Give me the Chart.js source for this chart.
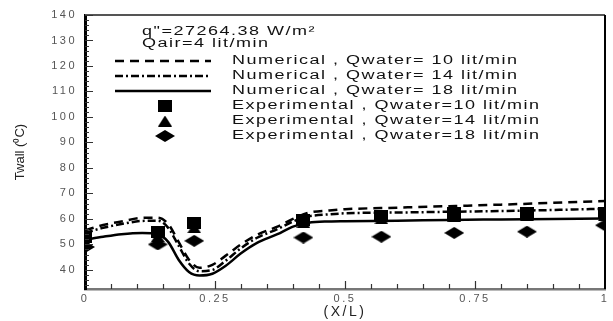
<!DOCTYPE html>
<html>
<head>
<meta charset="utf-8">
<script src="https://cdn.jsdelivr.net/npm/chart.js@4.4.1/dist/chart.umd.min.js"></script>
<style>
html, body { margin: 0; padding: 0; background: #fff; }
#wrap { width: 613px; height: 321px; }
</style>
</head>
<body>
<div id="wrap"><canvas id="myChart" width="613" height="321"></canvas></div>
<script>
const xTicks = [0, 0.25, 0.5, 0.75, 1];
const yTicks = [40, 50, 60, 70, 80, 90, 100, 110, 120, 130, 140];

// numerical profiles along the wall
const xNum = [0, 0.035, 0.07, 0.11, 0.14, 0.16, 0.18, 0.2, 0.22, 0.245, 0.27, 0.3, 0.33, 0.37, 0.4, 0.43, 0.47, 0.5, 0.6, 0.7, 0.8, 0.9, 1];
const num10 = [55.5, 57.6, 59, 60.4, 60.5, 58, 51, 44, 40.8, 42, 45.5, 50, 53.7, 57, 60, 62.4, 63.3, 63.8, 64.4, 65, 65.6, 66.3, 67];
const num14 = [54.5, 56.5, 58, 59.2, 59.3, 56.5, 49.5, 42.5, 39.5, 40, 43.5, 48.5, 52.5, 56, 59, 61, 61.8, 62.2, 62.5, 62.8, 63.1, 63.5, 64];
const num18 = [51.8, 53, 54, 54.5, 54, 51, 44, 39.2, 37.8, 38.5, 41.5, 46.5, 50.5, 54, 57, 58.5, 59, 59.1, 59.3, 59.6, 59.8, 60, 60.2];

// measured points
const xExp = [0, 0.14, 0.21, 0.42, 0.57, 0.71, 0.85, 1];
const exp10 = [53, 55, 58.4, 59.6, 61.2, 62.3, 62.5, 62.3];
const exp14 = [51, 53, 56.5, 58.5, 60, 61, 61.3, 61.3];
const exp18 = [49, 50, 51.4, 52.7, 53, 54.5, 55, 57.5];

const seriesLabels = [
    'Numerical , Qwater= 10 lit/min',
    'Numerical , Qwater= 14 lit/min',
    'Numerical , Qwater= 18 lit/min',
    'Experimental , Qwater=10 lit/min',
    'Experimental , Qwater=14 lit/min',
    'Experimental , Qwater=18 lit/min'
];
const headerLines = ['q"=27264.38 W/m²', 'Qair=4 lit/min'];

const FONT = '"Liberation Sans", Arial, sans-serif';

function toPoints(xs, ys) {
    return xs.map((x, i) => ({ x: x, y: ys[i] }));
}

function markerCanvas(w, h, draw) {
    const c = document.createElement('canvas');
    c.width = w;
    c.height = h;
    const g = c.getContext('2d');
    g.fillStyle = '#000';
    g.beginPath();
    draw(g, w, h);
    g.fill();
    return c;
}

const squareMark = markerCanvas(14, 12, (g, w, h) => g.rect(0, 0, w, h));
const triangleMark = markerCanvas(14, 11, (g, w, h) => {
    g.moveTo(w / 2, 0); g.lineTo(w, h); g.lineTo(0, h); g.closePath();
});
const diamondMark = markerCanvas(20, 12, (g, w, h) => {
    g.moveTo(w / 2, 0); g.lineTo(w, h / 2); g.lineTo(w / 2, h); g.lineTo(0, h / 2); g.closePath();
});

function lineSet(label, ys, dash) {
    return {
        label: label,
        data: toPoints(xNum, ys),
        showLine: true,
        borderColor: '#000',
        borderWidth: 2.5,
        borderDash: dash,
        pointRadius: 0,
        cubicInterpolationMode: 'monotone',
        fill: false,
        order: 5
    };
}

function markSet(label, ys, mark, order) {
    return {
        label: label,
        data: toPoints(xExp, ys),
        showLine: false,
        pointStyle: mark,
        pointRadius: 7,
        backgroundColor: '#000',
        borderColor: '#000',
        order: order
    };
}

function drawStretched(ctx, text, x, y) {
    ctx.save();
    ctx.translate(x, y);
    ctx.scale(1.5, 1);
    ctx.fillText(text, 0, 0);
    ctx.restore();
}

// spaced-out lettering for all text the library draws
const spacingPlugin = {
    id: 'spacing',
    beforeDraw(chart) {
        chart.ctx.letterSpacing = '2.5px';
    }
};

const framePlugin = {
    id: 'frame',
    afterDraw(chart) {
        const ctx = chart.ctx;
        const a = chart.chartArea;
        const xs = chart.scales.x;
        const ys = chart.scales.y;
        ctx.save();
        ctx.letterSpacing = '0px';

        // top and right edges of the box
        ctx.strokeStyle = '#555';
        ctx.lineWidth = 2;
        ctx.beginPath();
        ctx.moveTo(a.left, a.top);
        ctx.lineTo(a.right, a.top);
        ctx.stroke();
        ctx.strokeStyle = '#000';
        ctx.beginPath();
        ctx.moveTo(a.right, a.top);
        ctx.lineTo(a.right, a.bottom);
        ctx.stroke();

        // inward tick marks
        ctx.strokeStyle = '#333';
        ctx.lineWidth = 1.2;
        ctx.beginPath();
        for (let v = 34; v <= 140; v += 2) {
            const py = Math.round(ys.getPixelForValue(v)) + 0.5;
            const len = v % 10 === 0 ? 8 : 4;
            ctx.moveTo(a.left, py);
            ctx.lineTo(a.left + len, py);
        }
        for (let k = 1; k < 20; k++) {
            const px = Math.round(xs.getPixelForValue(k * 0.05)) + 0.5;
            const len = k % 5 === 0 ? 8 : 5;
            ctx.moveTo(px, a.bottom);
            ctx.lineTo(px, a.bottom - len);
        }
        ctx.stroke();

        // y axis title
        ctx.fillStyle = '#222';
        ctx.font = '13px ' + FONT;
        ctx.textAlign = 'center';
        ctx.textBaseline = 'middle';
        ctx.translate(20, (a.top + a.bottom) / 2);
        ctx.rotate(-Math.PI / 2);
        ctx.fillText('Twall (⁰C)', 0, 0);
        ctx.restore();
    }
};

const legendPlugin = {
    id: 'boxLegend',
    afterDraw(chart) {
        const ctx = chart.ctx;
        ctx.save();
        ctx.fillStyle = '#111';
        ctx.font = '12px ' + FONT;
        ctx.letterSpacing = '1px';
        ctx.textAlign = 'left';
        ctx.textBaseline = 'middle';
        drawStretched(ctx, headerLines[0], 142, 32);
        drawStretched(ctx, headerLines[1], 142, 44);

        chart.data.datasets.forEach((ds, i) => {
            const y = 61 + 15 * i;
            if (ds.showLine) {
                ctx.save();
                ctx.strokeStyle = ds.borderColor;
                ctx.lineWidth = ds.borderWidth;
                ctx.setLineDash(ds.borderDash || []);
                ctx.beginPath();
                ctx.moveTo(115, y);
                ctx.lineTo(211, y);
                ctx.stroke();
                ctx.restore();
            } else {
                const m = ds.pointStyle;
                ctx.drawImage(m, 165 - m.width / 2, y - m.height / 2);
            }
            drawStretched(ctx, ds.label, 232, y);
        });
        ctx.restore();
    }
};

var ctx = document.getElementById('myChart').getContext('2d');
var myChart = new Chart(ctx, {
    type: 'scatter',
    data: {
        datasets: [
            lineSet(seriesLabels[0], num10, [9, 6]),
            lineSet(seriesLabels[1], num14, [8, 3, 2, 3]),
            lineSet(seriesLabels[2], num18, []),
            markSet(seriesLabels[3], exp10, squareMark, 0),
            markSet(seriesLabels[4], exp14, triangleMark, 1),
            markSet(seriesLabels[5], exp18, diamondMark, 2)
        ]
    },
    options: {
        responsive: false,
        animation: false,
        layout: { padding: { top: 15, right: 1, left: 0, bottom: 0 } },
        plugins: {
            legend: { display: false },
            tooltip: { enabled: false }
        },
        scales: {
            x: {
                type: 'linear',
                min: 0,
                max: 1,
                afterBuildTicks: scale => { scale.ticks = xTicks.map(v => ({ value: v })); },
                afterFit: scale => { scale.height = 32; },
                grid: { display: false, drawTicks: false },
                border: { display: true, color: '#777', width: 2.5 },
                ticks: {
                    color: '#555',
                    font: { size: 11, family: FONT },
                    padding: 3,
                    maxRotation: 0,
                    callback: v => String(v)
                },
                title: {
                    display: true,
                    text: '(X/L)',
                    color: '#222',
                    font: { size: 14, family: FONT },
                    padding: 0
                }
            },
            y: {
                type: 'linear',
                min: 32.5,
                max: 140,
                afterBuildTicks: scale => { scale.ticks = yTicks.map(v => ({ value: v })); },
                afterFit: scale => { scale.width = 85; },
                grid: { display: false, drawTicks: false },
                border: { display: true, color: '#000', width: 3 },
                ticks: {
                    color: '#555',
                    font: { size: 11, family: FONT },
                    padding: 8
                }
            }
        }
    },
    plugins: [spacingPlugin, framePlugin, legendPlugin]
});
</script>
</body>
</html>
